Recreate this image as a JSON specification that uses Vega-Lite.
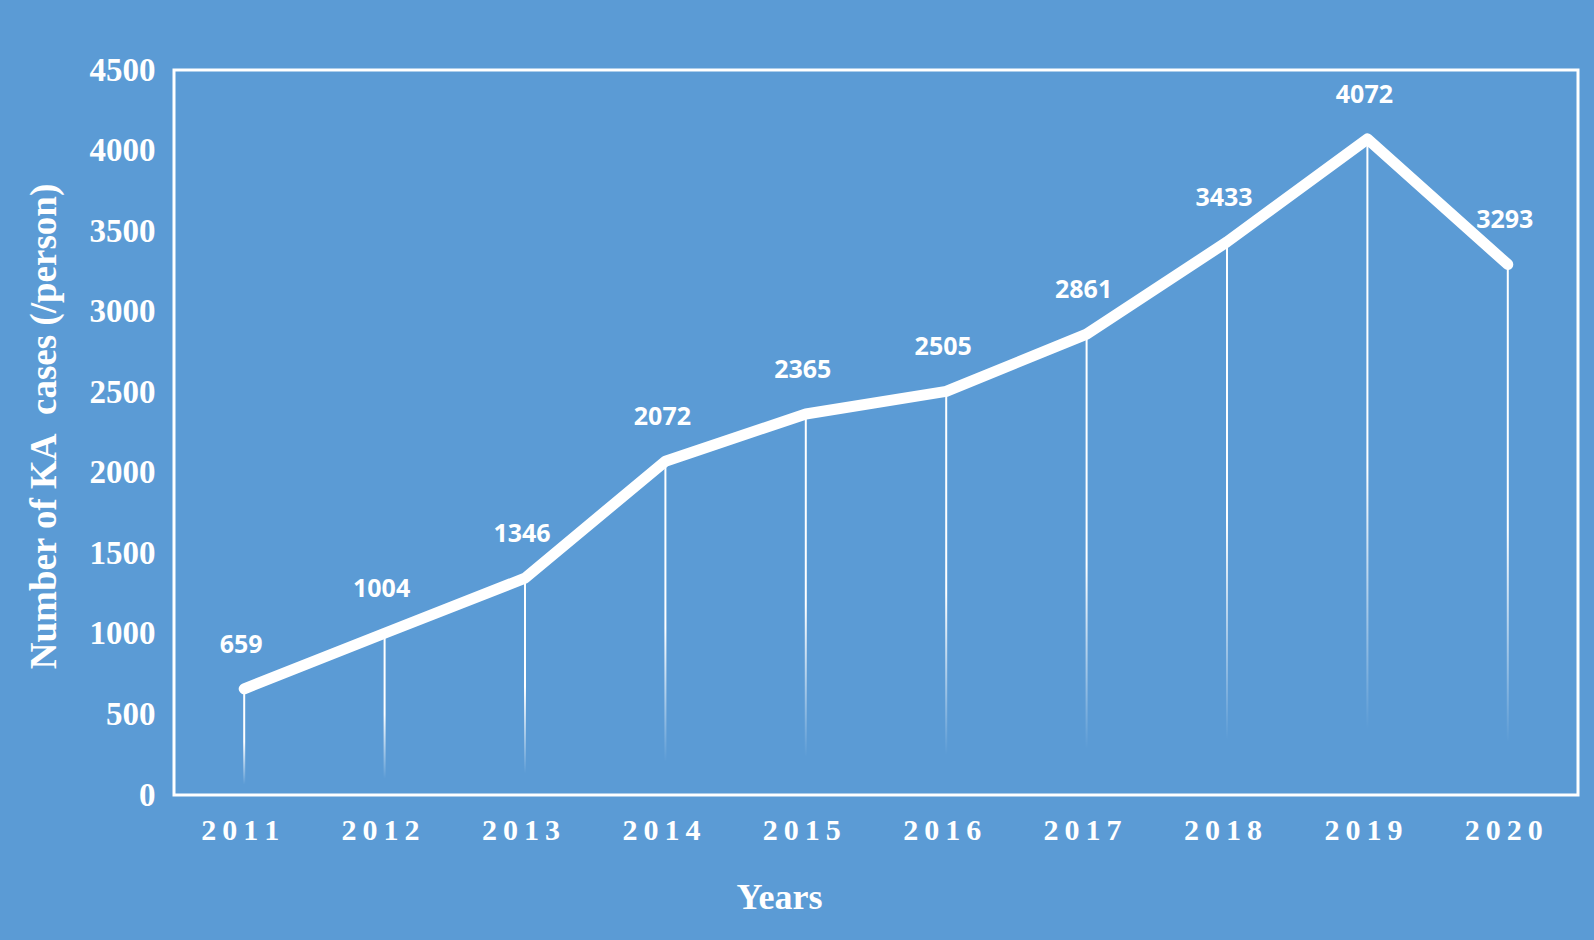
{
  "$schema": "https://vega.github.io/schema/vega-lite/v6.json",
  "width": 1404,
  "height": 725,
  "autosize": {"type": "none"},
  "padding": {"left": 174, "top": 70, "right": 16, "bottom": 145},
  "background": "#5b9bd5",
  "config": {
    "view": {"stroke": "white", "strokeWidth": 3},
    "axis": {"domain": false, "ticks": false, "grid": false}
  },
  "data": {
    "values": [
      {"year": "2011", "cases": 659},
      {"year": "2012", "cases": 1004},
      {"year": "2013", "cases": 1346},
      {"year": "2014", "cases": 2072},
      {"year": "2015", "cases": 2365},
      {"year": "2016", "cases": 2505},
      {"year": "2017", "cases": 2861},
      {"year": "2018", "cases": 3433},
      {"year": "2019", "cases": 4072},
      {"year": "2020", "cases": 3293}
    ]
  },
  "encoding": {
    "x": {
      "field": "year", "type": "ordinal",
      "scale": {"type": "band", "paddingInner": 0, "paddingOuter": 0},
      "axis": {
        "labelAngle": 0,
        "labelFont": "Liberation Serif", "labelFontWeight": "bold", "labelFontSize": 30, "labelColor": "white",
        "labelPadding": 20, "labelOffset": -4,
        "labelExpr": "join(split(datum.label, ''), '\u2009')",
        "title": "Years",
        "titleFont": "Liberation Serif", "titleFontWeight": "bold", "titleFontSize": 36, "titleColor": "white",
        "titleX": 605, "titleY": 113, "titleBaseline": "alphabetic"
      }
    },
    "y": {
      "field": "cases", "type": "quantitative",
      "scale": {"domain": [0, 4500], "nice": false},
      "axis": {
        "values": [0, 500, 1000, 1500, 2000, 2500, 3000, 3500, 4000, 4500],
        "format": "d",
        "labelFont": "Liberation Serif", "labelFontWeight": "bold", "labelFontSize": 33, "labelColor": "white",
        "labelPadding": 19,
        "title": "Number of KA\u00a0 cases (/person)",
        "titleFont": "Liberation Serif", "titleFontWeight": "bold", "titleFontSize": 37, "titleColor": "white",
        "titleAngle": 270, "titleX": -130, "titleY": 356, "titleBaseline": "middle", "titleAlign": "center"
      }
    }
  },
  "layer": [
    {
      "mark": {
        "type": "bar", "size": 2,
        "color": {
          "gradient": "linear", "x1": 0, "y1": 0, "x2": 0, "y2": 1,
          "stops": [
            {"offset": 0, "color": "white"},
            {"offset": 0.5, "color": "white"},
            {"offset": 0.9, "color": "rgba(255,255,255,0)"},
            {"offset": 1, "color": "rgba(255,255,255,0)"}
          ]
        }
      }
    },
    {
      "mark": {"type": "line", "color": "white", "strokeWidth": 11, "strokeCap": "round", "strokeJoin": "round"}
    },
    {
      "mark": {"type": "text", "color": "white", "font": "Open Sans", "fontWeight": "bold", "fontSize": 25, "dy": -44, "dx": -3, "baseline": "middle"},
      "encoding": {"text": {"field": "cases", "type": "quantitative", "format": "d"}}
    }
  ]
}
